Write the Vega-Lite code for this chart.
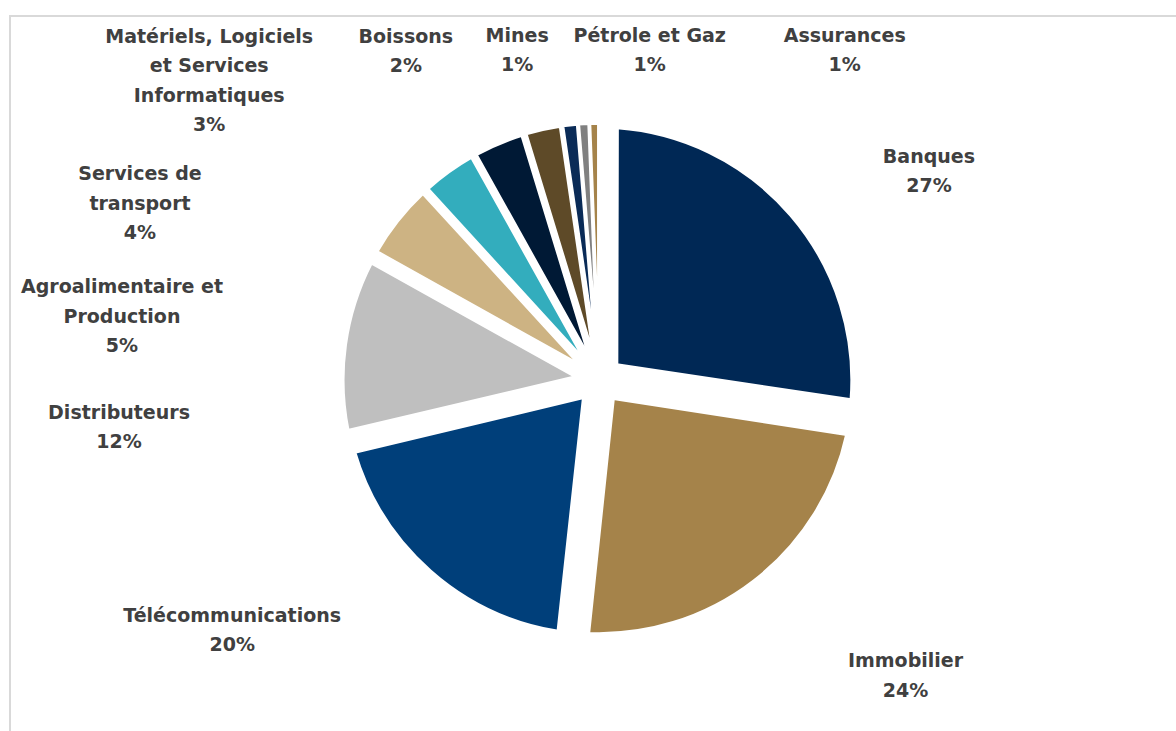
{
  "$schema": "https://vega.github.io/schema/vega-lite/v6.json",
  "width": 1178,
  "height": 728,
  "autosize": {"type": "none"},
  "padding": {"left": 10, "top": 16, "right": -12, "bottom": -13},
  "background": "#ffffff",
  "data": {
    "values": [
      {"sector": "Banques", "label": "Banques", "value": 27.4},
      {"sector": "Immobilier", "label": "Immobilier", "value": 24.3},
      {"sector": "Télécommunications", "label": "Télécommunications", "value": 19.6},
      {"sector": "Distributeurs", "label": "Distributeurs", "value": 11.8},
      {"sector": "Agroalimentaire et Production", "label": "Agroalimentaire et|Production", "value": 5.1},
      {"sector": "Services de transport", "label": "Services de|transport", "value": 3.7},
      {"sector": "Matériels, Logiciels et Services Informatiques", "label": "Matériels, Logiciels|et Services|Informatiques", "value": 3.4},
      {"sector": "Boissons", "label": "Boissons", "value": 2.4},
      {"sector": "Mines", "label": "Mines", "value": 1.0},
      {"sector": "Pétrole et Gaz", "label": "Pétrole et Gaz", "value": 0.7},
      {"sector": "Assurances", "label": "Assurances", "value": 0.6}
    ]
  },
  "layer": [
    {
      "data": {"values": [{}]},
      "mark": {"type": "rect", "fill": "transparent", "stroke": "#D9D9D9", "strokeWidth": 2},
      "encoding": {}
    },
    {
      "mark": {
        "type": "arc",
        "outerRadius": {"expr": "1.5 + 0.5*(255.2 + sqrt(53947 + 11180.4*cos(datum.value*PI/100)))"},
        "innerRadius": 23.5,
        "padAngle": {"expr": "2*asin(24.2*sin(datum.value*PI/100)/sqrt(552.25 + pow(1.5 + 0.5*(255.2 + sqrt(53947 + 11180.4*cos(datum.value*PI/100))), 2)))"},
        "stroke": "#ffffff",
        "strokeWidth": 3,
        "strokeJoin": "round"
      },
      "encoding": {
        "theta": {"field": "value", "type": "quantitative", "stack": true},
        "order": {"field": "value", "type": "quantitative", "sort": "descending"},
        "color": {
          "field": "sector",
          "type": "nominal",
          "legend": null,
          "scale": {
            "domain": ["Banques", "Immobilier", "Télécommunications", "Distributeurs", "Agroalimentaire et Production", "Services de transport", "Matériels, Logiciels et Services Informatiques", "Boissons", "Mines", "Pétrole et Gaz", "Assurances"],
            "range": ["#002855", "#A5834A", "#003F7A", "#BFBFBF", "#CDB383", "#33ADBD", "#001935", "#5E4A28", "#0A2B57", "#808080", "#A5834A"]
          }
        }
      }
    },
    {
      "transform": [
        {"calculate": "datum.label + '|' + format(datum.value, '.0f') + '%'", "as": "txt"}
      ],
      "mark": {
        "type": "text",
        "font": "DejaVu Sans",
        "fontSize": 19,
        "fontWeight": "bold",
        "color": "#404040",
        "lineBreak": "|",
        "lineHeight": 29.5,
        "align": "center",
        "baseline": "middle"
      },
      "encoding": {
        "theta": {
          "field": "value",
          "type": "quantitative",
          "stack": true,
          "scale": {
            "domain": [0, 13.7, 39.55, 61.5, 77.2, 85.65, 90.05, 93.6, 96.5, 98.2, 99.05, 99.7, 100],
            "range": [0, 0.9758, 2.3133, 4.141, 4.6438, 4.9049, 5.1342, 5.4344, 5.7706, 6.0498, 6.4295, 6.9031, 7.0]
          }
        },
        "radius": {
          "field": "value",
          "type": "quantitative",
          "scale": {
            "type": "linear",
            "zero": false,
            "nice": false,
            "domain": [0.6, 0.7, 1.0, 2.4, 3.4, 3.7, 5.1, 11.8, 19.6, 24.3, 27.4],
            "range": [422.9, 347.9, 353.8, 393.9, 519.4, 503.1, 486.0, 481.1, 436.1, 416.0, 398.4]
          }
        },
        "order": {"field": "value", "type": "quantitative", "sort": "descending"},
        "text": {"field": "txt"}
      }
    }
  ],
  "resolve": {"scale": {"theta": "independent"}},
  "config": {
    "view": {"stroke": null}
  }
}
